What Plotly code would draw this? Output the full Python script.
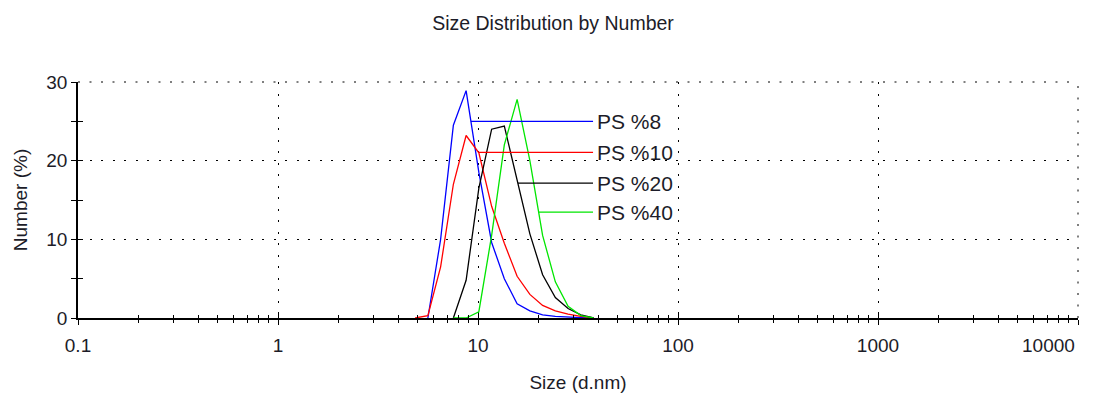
import math
import plotly.graph_objects as go

# ---------------- data ----------------
sizes_nm = [4.849, 5.615, 6.503, 7.531, 8.721, 10.10, 11.70, 13.54,
            15.69, 18.17, 21.04, 24.36, 28.21, 32.67, 37.84]

ps8 = [None, 0, 10.0, 24.5, 28.9, 18.5, 9.6, 5.0, 1.8, 0.9, 0.4, 0.2, 0.1, 0.05, 0]
ps10 = [0, 0.3, 6.5, 17.0, 23.2, 21.0, 14.2, 9.5, 5.3, 3.0, 1.6, 0.9, 0.5, 0.2, 0]
ps20 = [None, None, None, 0, 4.8, 16.5, 24.0, 24.4, 17.6, 10.7, 5.5, 2.6, 1.2, 0.4, 0]
ps40 = [None, None, None, 0, 0, 0.8, 10.5, 22.0, 27.8, 20.0, 10.5, 4.6, 1.5, 0.3, 0]

series_names = ["PS %8", "PS %10", "PS %20", "PS %40"]
series_values = [ps8, ps10, ps20, ps40]
series_colors = ["#0000FF", "#FF0000", "#000000", "#00E600"]

# label placement (leader-line levels in % and label column in nm)
label_levels = [25.0, 21.05, 17.15, 13.45]
label_size_nm = 37.6

x_tickvals = [0.1, 1, 10, 100, 1000, 10000]
x_ticktext = ["0.1", "1", "10", "100", "1000", "10000"]
y_tickvals = [0, 10, 20, 30]
y_ticktext = ["0", "10", "20", "30"]

x_minor = [m * 10 ** e for e in range(-1, 4) for m in range(2, 10)]

FONT = "Liberation Sans, Arial, sans-serif"
TXT = "#1c1c28"
DOTS = "2px,9.5px"


def leader_start(xs, ys, level):
    """Point on the descending branch of a curve where it crosses `level`."""
    pts = [(x, y) for x, y in zip(xs, ys) if y is not None]
    ipk = max(range(len(pts)), key=lambda i: pts[i][1])
    for i in range(ipk, len(pts) - 1):
        (x0, y0), (x1, y1) = pts[i], pts[i + 1]
        if y0 >= level >= y1:
            t = (y0 - level) / (y0 - y1) if y0 != y1 else 0
            lx = math.log10(x0) + t * (math.log10(x1) - math.log10(x0))
            return 10 ** lx
    return pts[ipk][0]


fig = go.Figure()

for name, vals, col in zip(series_names, series_values, series_colors):
    fig.add_trace(go.Scatter(x=sizes_nm, y=vals, mode="lines", name=name,
                             line=dict(color=col, width=1.3), showlegend=False,
                             cliponaxis=False))

for name, vals, col, lvl in zip(series_names, series_values, series_colors, label_levels):
    sx = leader_start(sizes_nm, vals, lvl)
    fig.add_trace(go.Scatter(x=[sx, label_size_nm], y=[lvl, lvl], mode="lines",
                             line=dict(color=col, width=1.3), showlegend=False,
                             hoverinfo="skip"))
    fig.add_annotation(x=math.log10(label_size_nm), y=lvl, xref="x", yref="y",
                       text=name, showarrow=False, xanchor="left", yanchor="middle",
                       xshift=2, font=dict(family=FONT, size=21, color=TXT))

# last tick label is right-aligned to the axis end (kept inside the picture)
fig.add_annotation(x=math.log10(x_tickvals[-1]), y=0, xref="x", yref="paper",
                   text=x_ticktext[-1], showarrow=False, xanchor="right",
                   yanchor="middle", xshift=-1, yshift=-27,
                   font=dict(family=FONT, size=19, color=TXT))

# invisible trace on the overlay axes (inside half of crossing ticks)
fig.add_trace(go.Scatter(x=[], y=[], xaxis="x2", yaxis="y2", showlegend=False))

# dotted frame on the top and right edges of the plot area
fig.add_shape(type="line", xref="x domain", yref="y domain", x0=0, x1=1, y0=1, y1=1,
              line=dict(color="black", width=1, dash=DOTS), layer="below")
fig.add_shape(type="line", xref="x domain", yref="y domain", x0=1, x1=1, y0=0, y1=1,
              line=dict(color="black", width=1, dash=DOTS), layer="below")

axis_common = dict(showline=True, linecolor="black", linewidth=1.5,
                   ticks="outside", tickcolor="black", tickwidth=1.2,
                   zeroline=False, layer="below traces", automargin=False)

fig.update_layout(
    width=1106, height=394,
    margin=dict(l=78, r=28, t=82, b=76),
    paper_bgcolor="white", plot_bgcolor="white",
    font=dict(family=FONT, color=TXT),
    title=dict(text="Size Distribution by Number", x=0.5, xanchor="center",
               y=1 - 23 / 394, yanchor="middle",
               font=dict(family=FONT, size=19.5, color=TXT)),
    xaxis=dict(type="log", range=[-1, 4], tickmode="array",
               tickvals=x_tickvals, ticktext=x_ticktext[:-1] + [""], ticklen=5,
               tickfont=dict(size=19, color=TXT), ticklabelstandoff=4,
               showgrid=True, gridcolor="black", gridwidth=1, griddash=DOTS,
               minor=dict(tickmode="array", tickvals=x_minor, ticks="outside",
                          ticklen=3, tickcolor="black", tickwidth=1.2, showgrid=False),
               title=dict(text="Size (d.nm)", standoff=21,
                          font=dict(size=19, color=TXT)),
               **axis_common),
    yaxis=dict(range=[0, 30], tickmode="array", tickvals=y_tickvals,
               ticktext=y_ticktext, ticklen=5,
               tickfont=dict(size=19, color=TXT),
               showgrid=True, gridcolor="black", gridwidth=1, griddash=DOTS,
               minor=dict(dtick=5, ticks="outside", ticklen=5, tickcolor="black",
                          tickwidth=1.2, showgrid=False),
               title=dict(text="Number (%)", standoff=14,
                          font=dict(size=19, color=TXT)),
               **axis_common),
    xaxis2=dict(type="log", range=[-1, 4], overlaying="x", anchor="y", side="bottom",
                tickmode="array", tickvals=x_tickvals, ticks="inside", ticklen=5,
                tickcolor="black", tickwidth=1.2, showticklabels=False,
                showgrid=False, showline=False, zeroline=False, automargin=False,
                minor=dict(tickmode="array", tickvals=x_minor, ticks="inside",
                           ticklen=3, tickcolor="black", tickwidth=1.2, showgrid=False)),
    yaxis2=dict(range=[0, 30], overlaying="y", anchor="x", side="left",
                tickmode="array", tickvals=y_tickvals, ticks="inside", ticklen=5,
                tickcolor="black", tickwidth=1.2, showticklabels=False,
                showgrid=False, showline=False, zeroline=False, automargin=False,
                minor=dict(dtick=5, ticks="inside", ticklen=5, tickcolor="black",
                           tickwidth=1.2, showgrid=False)),
    showlegend=False,
)

fig.write_html("out.html")
